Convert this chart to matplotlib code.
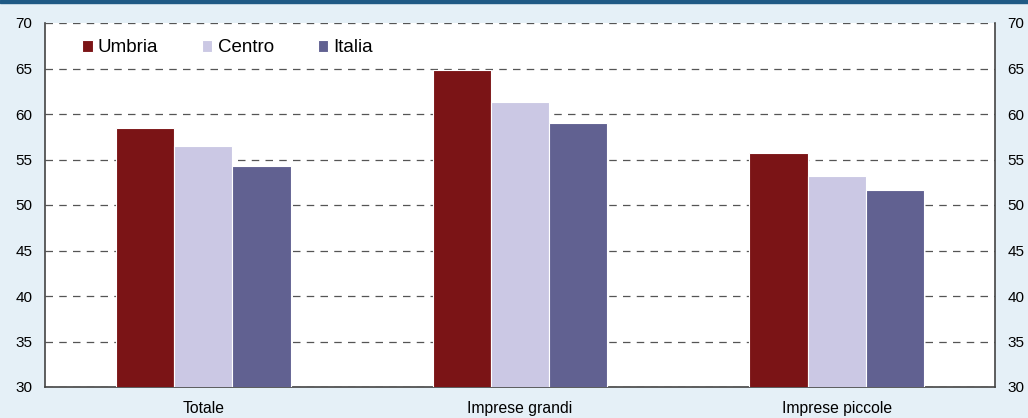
import numpy as np
import matplotlib.pyplot as plt
from matplotlib.patches import Rectangle

plt.rcParams['font.family'] = ['Liberation Sans', 'DejaVu Sans']

categories = ["Totale", "Imprese grandi", "Imprese piccole"]
series = ["Umbria", "Centro", "Italia"]
umbria = [58.5, 64.8, 55.7]
centro = [56.5, 61.3, 53.2]
italia = [54.3, 59.0, 51.7]
colors = ["#7B1416", "#CBC8E4", "#616191"]

bg = "#E5F0F7"
fig = plt.figure(figsize=(10.28, 4.18), dpi=100, facecolor=bg)
ax = fig.add_axes([45/1028, 1-387/418, 950/1028, 364/418])
ax.set_facecolor("white")

x = np.arange(len(categories))
w = 0.184
for i, (name, vals) in enumerate(zip(series, [umbria, centro, italia])):
    ax.bar(x + (i - 1) * w, vals, width=w, color=colors[i], edgecolor="white",
           linewidth=0.8, label=name, zorder=3)

ax.set_ylim(30, 70)
ax.set_xlim(-0.5, 2.5)
ax.set_yticks(range(30, 71, 5))
ax.set_xticks(x)
ax.set_xticklabels(categories)
ax.yaxis.grid(True, linestyle=(0, (6, 5)), color="#555555", linewidth=0.9, zorder=1)
ax.tick_params(axis="y", length=0, labelsize=11, right=True, labelright=True, pad=9)
ax.tick_params(axis="x", length=0, labelsize=11.3, pad=10)
ax.spines["top"].set_visible(False)
for s in ["left", "right", "bottom"]:
    ax.spines[s].set_color("#444444")
    ax.spines[s].set_linewidth(1.2)

leg = ax.legend(loc="upper left", ncol=3, frameon=False, fontsize=13.5,
                handlelength=0.56, handleheight=0.56, handletextpad=0.28,
                columnspacing=2.33, borderpad=0, borderaxespad=0,
                bbox_to_anchor=(37/950, 1-16.5/364))

fig.add_artist(Rectangle((0, 1-3/418), 1, 3/418, transform=fig.transFigure,
                         color="#1F5A85", zorder=5))

fig.savefig("out.png", dpi=100, facecolor=bg)
